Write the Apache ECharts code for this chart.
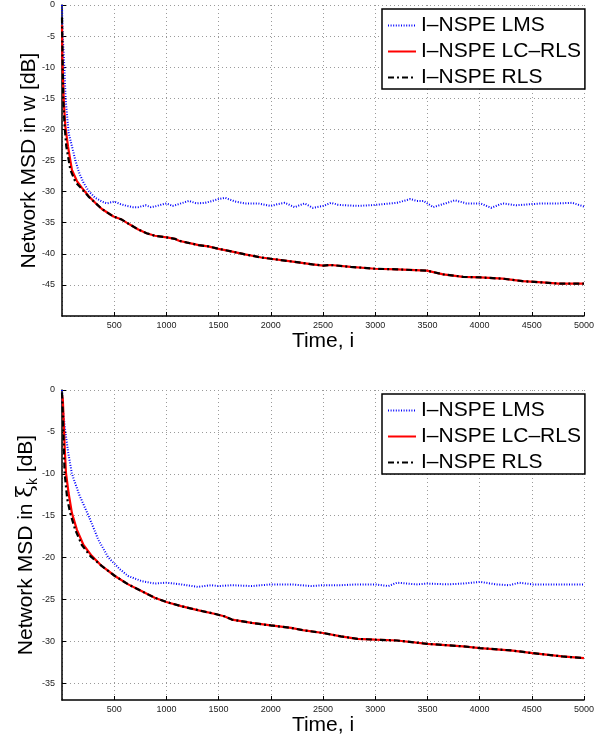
<!DOCTYPE html>
<html>
<head>
<meta charset="utf-8">
<script src="https://cdn.jsdelivr.net/npm/echarts@6/dist/echarts.min.js"></script>
<style>
html,body{margin:0;padding:0;background:#fff;}
#chart{width:597px;height:740px;}
</style>
</head>
<body>
<div id="chart"></div>
<script>
// ---------- data (iteration, MSD in dB) ----------
const seriesNames = ['I–NSPE LMS', 'I–NSPE LC–RLS', 'I–NSPE RLS'];
const xTicks = [500, 1000, 1500, 2000, 2500, 3000, 3500, 4000, 4500, 5000];
const topYTicks = [0, -5, -10, -15, -20, -25, -30, -35, -40, -45];
const bottomYTicks = [0, -5, -10, -15, -20, -25, -30, -35];

const topLMS = [[0,0],[6,-4.5],[22,-9.9],[35,-15.2],[64,-20.6],[95,-22.7],[127,-24.9],[165,-27.0],[207,-28.6],[254,-29.9],[318,-31.0],[382,-31.6],[430,-31.9],[500,-31.6],[560,-32.0],[620,-32.3],[680,-32.5],[731,-32.5],[800,-32.2],[850,-32.5],[890,-32.4],[950,-32.1],[1000,-31.9],[1060,-32.3],[1120,-32.0],[1215,-31.5],[1290,-31.9],[1373,-31.8],[1440,-31.5],[1500,-31.2],[1563,-31.0],[1610,-31.3],[1658,-31.6],[1753,-31.9],[1880,-31.9],[2000,-32.3],[2070,-32.0],[2133,-31.8],[2228,-32.5],[2323,-31.9],[2402,-32.6],[2503,-32.3],[2576,-31.8],[2640,-32.1],[2703,-32.2],[2830,-32.3],[2953,-32.2],[3083,-32.0],[3209,-31.8],[3336,-31.2],[3400,-31.5],[3462,-31.5],[3557,-32.5],[3652,-32.0],[3763,-31.4],[3874,-31.9],[4007,-31.9],[4111,-32.6],[4222,-31.9],[4349,-32.2],[4507,-32.0],[4602,-31.9],[4760,-31.9],[4887,-31.8],[5000,-32.4]];
const topLCRLS = [[0,-3.2],[3,-8.3],[16,-15.2],[32,-19.5],[57,-22.7],[95,-26.5],[143,-28.3],[191,-29.4],[254,-30.7],[318,-31.8],[382,-32.8],[493,-34.0],[572,-34.5],[650,-35.3],[731,-36.1],[810,-36.7],[890,-37.1],[1018,-37.4],[1081,-37.6],[1120,-37.9],[1200,-38.2],[1310,-38.6],[1400,-38.8],[1500,-39.2],[1620,-39.6],[1753,-40.1],[1911,-40.6],[2000,-40.8],[2228,-41.3],[2400,-41.7],[2503,-41.9],[2576,-41.8],[2766,-42.1],[3000,-42.4],[3209,-42.5],[3494,-42.7],[3652,-43.3],[3842,-43.7],[4007,-43.8],[4222,-44.0],[4412,-44.4],[4602,-44.6],[4760,-44.8],[5000,-44.8]];
const topRLS = [[0,-2.0],[5,-8.0],[12,-15.2],[25,-19.5],[41,-22.7],[80,-26.5],[130,-28.5],[191,-29.6],[254,-30.8],[318,-31.8],[382,-32.8],[493,-34.0],[572,-34.5],[650,-35.3],[731,-36.1],[810,-36.7],[890,-37.1],[1018,-37.4],[1081,-37.6],[1120,-37.9],[1200,-38.2],[1310,-38.6],[1400,-38.8],[1500,-39.2],[1620,-39.6],[1753,-40.1],[1911,-40.6],[2000,-40.8],[2228,-41.3],[2400,-41.7],[2503,-41.9],[2576,-41.8],[2766,-42.1],[3000,-42.4],[3209,-42.5],[3494,-42.7],[3652,-43.3],[3842,-43.7],[4007,-43.8],[4222,-44.0],[4412,-44.4],[4602,-44.6],[4760,-44.8],[5000,-44.8]];

const bottomLMS = [[0,0],[10,-2.5],[32,-5.0],[60,-7.5],[95,-10.0],[165,-12.5],[254,-15.0],[349,-17.9],[444,-20.0],[555,-21.4],[634,-22.2],[761,-22.8],[888,-23.1],[1000,-23.0],[1141,-23.2],[1300,-23.5],[1427,-23.3],[1500,-23.4],[1627,-23.3],[1817,-23.4],[2000,-23.2],[2196,-23.2],[2386,-23.4],[2500,-23.3],[2671,-23.3],[2829,-23.2],[3000,-23.2],[3126,-23.4],[3209,-23.0],[3399,-23.2],[3500,-23.1],[3684,-23.2],[3842,-23.1],[4004,-22.9],[4158,-23.2],[4285,-23.3],[4380,-23.0],[4507,-23.2],[4665,-23.2],[4823,-23.2],[5000,-23.2]];
const bottomLCRLS = [[0,-0.6],[8,-1.2],[16,-3.6],[25,-6.7],[38,-9.9],[63,-12.3],[95,-14.7],[143,-16.7],[206,-18.5],[285,-19.8],[380,-21.0],[507,-22.2],[634,-23.2],[761,-24.0],[888,-24.8],[999,-25.3],[1141,-25.8],[1310,-26.3],[1458,-26.7],[1553,-27.0],[1627,-27.4],[1817,-27.8],[2000,-28.1],[2196,-28.4],[2323,-28.7],[2500,-29.0],[2671,-29.4],[2829,-29.7],[3000,-29.8],[3209,-29.9],[3500,-30.3],[3842,-30.6],[4004,-30.8],[4317,-31.1],[4507,-31.4],[4792,-31.8],[5000,-32.0]];
const bottomRLS = [[0,-0.3],[8,-3.0],[15,-6.0],[25,-9.9],[50,-13.0],[79,-14.7],[127,-16.7],[190,-18.5],[270,-19.8],[380,-21.0],[507,-22.2],[634,-23.2],[761,-24.0],[888,-24.8],[999,-25.3],[1141,-25.8],[1310,-26.3],[1458,-26.7],[1553,-27.0],[1627,-27.4],[1817,-27.8],[2000,-28.1],[2196,-28.4],[2323,-28.7],[2500,-29.0],[2671,-29.4],[2829,-29.7],[3000,-29.8],[3209,-29.9],[3500,-30.3],[3842,-30.6],[4004,-30.8],[4317,-31.1],[4507,-31.4],[4792,-31.8],[5000,-32.0]];

// ---------- chart ----------
const FONT = 'Liberation Sans, Arial, Helvetica, sans-serif';
const gridLine = {show: true, lineStyle: {color: '#9a9a9a', width: 1, type: [1, 3]}};
const axisLineBlack = {show: true, onZero: false, lineStyle: {color: '#000', width: 1.5}};
const tickStyle = {show: true, inside: true, length: 4, lineStyle: {color: '#000', width: 1}};
const labelStyle = {fontSize: 9, color: '#222', fontFamily: FONT, formatter: v => String(v)};

function xAxis(gridIndex) {
  return {
    type: 'value', gridIndex, min: 0, max: 5000, interval: 500,
    name: 'Time, i', nameLocation: 'middle', nameGap: 15, nameMoveOverlap: false,
    nameTextStyle: {fontSize: 21, color: '#000', fontFamily: FONT, verticalAlign: 'top'},
    axisLine: axisLineBlack, axisTick: tickStyle,
    axisLabel: Object.assign({margin: 5, showMinLabel: false}, labelStyle),
    splitLine: gridLine
  };
}

const styles = [
  {color: '#0000ff', width: 2, type: [1, 1.6]},
  {color: '#ff0000', width: 2.2, type: 'solid'},
  {color: '#000000', width: 2.2, type: [6, 3, 2, 3]}
];

function mkSeries(data, k, xi, yi) {
  return {
    name: seriesNames[k], type: 'line', xAxisIndex: xi, yAxisIndex: yi,
    data, showSymbol: false, symbol: 'none', smooth: false,
    lineStyle: styles[k], itemStyle: {color: styles[k].color}, z: 2 + k
  };
}

function legend(top) {
  return {
    left: 382, top, orient: 'vertical',
    data: seriesNames,
    itemWidth: 28, itemHeight: 14, itemGap: 5,
    padding: [6, 4, 1, 5],
    borderColor: '#000', borderWidth: 1.5, backgroundColor: '#fff',
    itemStyle: {opacity: 0},
    textStyle: {fontSize: 21, color: '#000', fontFamily: FONT}
  };
}

const chart = echarts.init(document.getElementById('chart'), null, {renderer: 'canvas'});
chart.setOption({
  animation: false,
  backgroundColor: '#fff',
  grid: [
    {left: 62, top: 5, width: 527, height: 311, containLabel: false},
    {left: 62, top: 390, width: 527, height: 310, containLabel: false}
  ],
  legend: [legend(9), legend(394)],
  xAxis: [xAxis(0), xAxis(1)],
  yAxis: [
    {
      type: 'value', gridIndex: 0, min: -50, max: 0, interval: 5,
      name: 'Network MSD in w [dB]', nameLocation: 'middle', nameGap: 22, nameRotate: 90, nameMoveOverlap: false,
      nameTextStyle: {fontSize: 21, color: '#000', fontFamily: FONT},
      axisLine: axisLineBlack, axisTick: tickStyle,
      axisLabel: Object.assign({margin: 7, showMinLabel: false}, labelStyle),
      splitLine: gridLine
    },
    {
      type: 'value', gridIndex: 1, min: -37, max: 0,
      name: '{t|Network MSD in }{x|ξ}{s|k}{t| [dB]}', nameLocation: 'middle', nameGap: 22, nameRotate: 90, nameMoveOverlap: false,
      nameTextStyle: {
        fontSize: 21, color: '#000', fontFamily: FONT,
        rich: {
          t: {fontSize: 21, fontFamily: FONT, color: '#000', lineHeight: 28, verticalAlign: 'middle'},
          x: {fontSize: 23, fontFamily: 'DejaVu Serif, serif', color: '#000', lineHeight: 28, verticalAlign: 'middle'},
          s: {fontSize: 14, fontFamily: FONT, color: '#000', lineHeight: 28, verticalAlign: 'bottom'}
        }
      },
      axisLine: axisLineBlack,
      axisTick: Object.assign({customValues: bottomYTicks}, tickStyle),
      axisLabel: Object.assign({margin: 7, customValues: bottomYTicks}, labelStyle),
      splitLine: gridLine
    }
  ],
  series: [
    mkSeries(topLMS, 0, 0, 0), mkSeries(topLCRLS, 1, 0, 0), mkSeries(topRLS, 2, 0, 0),
    mkSeries(bottomLMS, 0, 1, 1), mkSeries(bottomLCRLS, 1, 1, 1), mkSeries(bottomRLS, 2, 1, 1)
  ]
});
</script>
</body>
</html>
